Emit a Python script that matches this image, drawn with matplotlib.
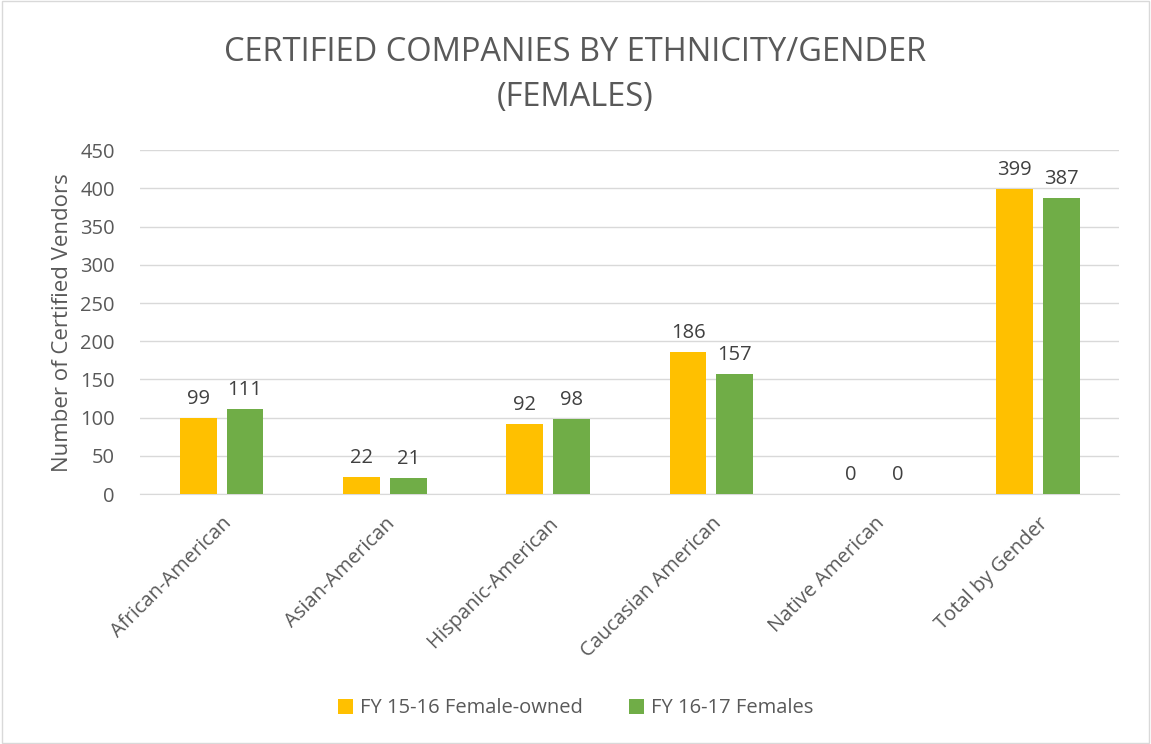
import numpy as np
import matplotlib.pyplot as plt

categories = ['African-American', 'Asian-American', 'Hispanic-American',
              'Caucasian American', 'Native American', 'Total by Gender']
fy1516 = [99, 22, 92, 186, 0, 399]
fy1617 = [111, 21, 98, 157, 0, 387]
series_names = ['FY 15-16 Female-owned', 'FY 16-17 Females']

plt.rcParams['font.family'] = ['Open Sans', 'DejaVu Sans']
txt = '#595959'

fig = plt.figure(figsize=(11.51, 7.44), dpi=100)
ax = fig.add_axes([0.1216, 0.336, 0.851, 0.462])

x = np.arange(len(categories))
w = 0.225
b1 = ax.bar(x - 0.143, fy1516, w, color='#FFC000', label=series_names[0], zorder=3)
b2 = ax.bar(x + 0.143, fy1617, w, color='#70AD47', label=series_names[1], zorder=3)

for bars in (b1, b2):
    for r in bars:
        ax.text(r.get_x() + r.get_width() / 2, r.get_height() + 12, f'{int(r.get_height())}',
                ha='center', va='bottom', fontsize=14.5, color='#404040')

ax.set_xlim(-0.5, len(categories) - 0.5)
ax.set_ylim(0, 450)
ax.set_yticks(range(0, 451, 50))
ax.yaxis.grid(True, color='#D9D9D9', linewidth=1, zorder=0)
for s in ['top', 'right', 'left']:
    ax.spines[s].set_visible(False)
ax.spines['bottom'].set_color('#D9D9D9')
ax.tick_params(axis='both', length=0, labelsize=14.5, colors=txt)
ax.tick_params(axis='y', pad=18)
ax.set_xticks(x)
ax.set_xticklabels(categories, rotation=45, ha='right', rotation_mode='anchor')
ax.tick_params(axis='x', pad=14)
ax.set_ylabel('Number of Certified Vendors', fontsize=16, color=txt, labelpad=5)

fig.suptitle('CERTIFIED COMPANIES BY ETHNICITY/GENDER\n(FEMALES)', y=0.952,
             fontsize=23.5, color=txt, linespacing=1.5)

fig.legend(loc='center', bbox_to_anchor=(0.5, 0.048), ncol=2, frameon=False,
           fontsize=14.5, labelcolor=txt, handlelength=0.75, handleheight=0.75,
           columnspacing=2.3, handletextpad=0.35)

fig.patches.append(plt.Rectangle((0.002, 0.002), 0.996, 0.996, transform=fig.transFigure,
                                 fill=False, edgecolor='#D9D9D9', linewidth=1))

fig.savefig('out.png', dpi=100)
